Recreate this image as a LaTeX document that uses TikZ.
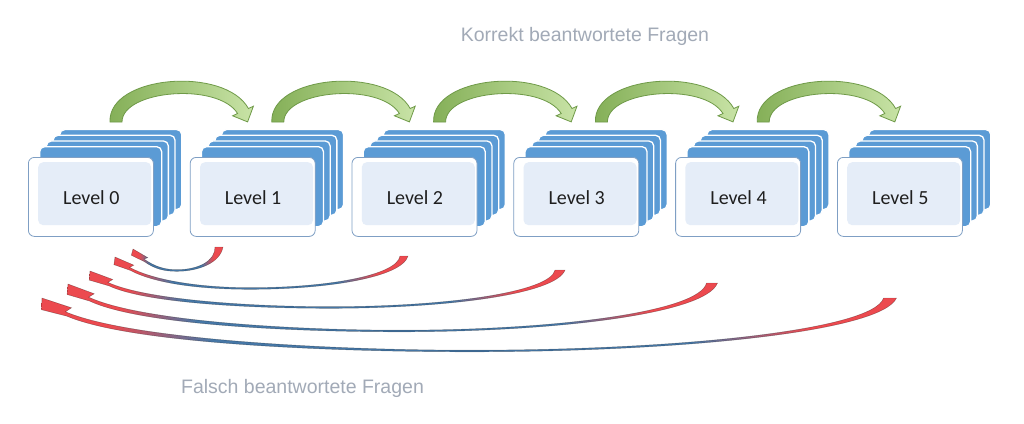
\documentclass[tikz,border=0pt]{standalone}
\usepackage{fontspec}
\setmainfont{Carlito}
\newfontfamily\arialf{Liberation Sans}
\usetikzlibrary{calc}

\definecolor{cardblue}{HTML}{5B9BD5}
\definecolor{cardedge}{HTML}{7F9FC4}
\definecolor{cardin}{HTML}{E5EDF8}
\definecolor{titlegrey}{HTML}{A2AAB7}
\definecolor{rd}{HTML}{EC4A4F}
\definecolor{bl}{HTML}{4677A6}
\definecolor{gdark}{HTML}{6F9A48}
\definecolor{gleft}{HTML}{84AF57}
\definecolor{gright}{HTML}{C8E3A6}

\pgfdeclarehorizontalshading{redblue}{100bp}{color(0bp)=(rd); color(29bp)=(rd); color(35bp)=(bl); color(63bp)=(bl); color(70bp)=(rd); color(100bp)=(rd)}

% #1 tail x, #2 tail y, #3 tail width, #4 bottom x, #5 bottom y,
% #6 tip x, #7 tip y, #8 head angle, #9 head scale
\newcommand\redarr[9]{%
  \pgfmathsetmacro\rc{0.03*(#1-#4)}%
  \pgfmathsetmacro\rk{0.6*(#5-#2)}%
  \pgfmathsetmacro\rPa{#4+0.5*(#1-#4)}%
  \pgfmathsetmacro\rHx{#6+#9*(27*cos(#8)-3.5*sin(#8))}%
  \pgfmathsetmacro\rHy{#7+#9*(27*sin(#8)+3.5*cos(#8))}%
  \pgfmathsetmacro\rPb{#4-0.35*(#4-\rHx)}%
  \pgfmathsetmacro\rdB{min(0.35*(#4-\rHx)/cos(#8),0.7*(#5-\rHy)/sin(#8))}%
  \pgfmathsetmacro\rdx{\rdB*cos(#8)}%
  \pgfmathsetmacro\rdy{\rdB*sin(#8)}%
  \begin{scope}[shift={(#6,#7)},rotate=-#8]
    \coordinate (hT) at (0,0);
    \coordinate (hB) at ({31*#9},{-2.5*#9});
    \coordinate (hJ) at ({27*#9},{3.5*#9});
    \coordinate (hL) at ({30*#9},{7*#9});
    \coordinate (hC) at ({4*#9},{11*#9});
  \end{scope}
  \path[redarrow] ({#1-0.5*#3},#2) .. controls ({#1-0.3*#3-\rc},{#2+\rk}) and (\rPa,{#5-0.8}) .. (#4,{#5-0.8})
    .. controls (\rPb,{#5-0.8}) and ($(hJ)+(\rdx,\rdy)$) .. (hJ) -- (hB) -- (hT) -- (hC) -- (hL)
    .. controls ($(hL)+(\rdx,\rdy)$) and (\rPb,{#5+0.8}) .. (#4,{#5+0.8})
    .. controls (\rPa,{#5+0.8}) and ({#1+0.3*#3-\rc},{#2+\rk+2}) .. ({#1+0.5*#3},#2) -- cycle;
}

\begin{document}
\begin{tikzpicture}[x=1pt,y=-1pt,
  backcard/.style={draw=white, line width=1.3pt, fill=cardblue, rounded corners=5pt,
    minimum width=122pt, minimum height=80pt, inner sep=0pt, anchor=north west},
  frontcard/.style={draw=cardedge, line width=0.8pt, fill=white, rounded corners=6pt,
    minimum width=125pt, minimum height=79pt, inner sep=0pt, anchor=north west},
  innercard/.style={fill=cardin, rounded corners=5pt, minimum width=113pt,
    minimum height=63pt, inner sep=0pt, anchor=north west},
  lvl/.style={font=\fontsize{20}{24}\selectfont, text=black!88, anchor=base, inner sep=0pt},
  title/.style={font=\arialf\fontsize{19.5}{23}\selectfont, text=titlegrey, anchor=base, inner sep=0pt},
  greenarrow/.style={draw=gdark, line width=0.8pt, left color=gleft, right color=gright},
  redarrow/.style={shading=redblue, draw=black, draw opacity=0.35, line width=0.45pt}]

\fill[white] (0,0) rectangle (1024,423);
\useasboundingbox (0,0) rectangle (1024,423);

% card stacks
\foreach \i in {0,...,5}{
  \pgfmathsetmacro\X{28+161.8*\i}
  \foreach \k in {4,3,2,1}{
    \node[backcard] (B\i\k) at ({\X+11+6.7*(\k-1)},{146-5.7*(\k-1)}) {};
  }
  \node[frontcard] (L\i) at (\X,157) {};
  \node[innercard] (I\i) at ({\X+10},162) {};
  \node[lvl] (T\i) at ({\X+63.3},204.5) {Level \i};
}

% green arrows (correct answers)
\foreach \i in {0,...,4}{
  \begin{scope}[xshift={161.8*\i}]
    \path[greenarrow] (110,122) .. controls (108,75) and (225,66) .. (248.4,108.5)
      -- (253.4,106.2) -- (247.6,121.9) -- (232.6,115.8) -- (237.6,113.5)
      .. controls (218,82) and (122,90) .. (122,122) -- cycle;
  \end{scope}
}

% red arrows (wrong answers)
\redarr{219}{247}{8}{177}{270.5}{133}{249}{35}{0.55}
\redarr{404}{256}{8}{250}{288.5}{115}{257}{28}{0.66}
\redarr{560}{270}{10}{330}{307.5}{90}{271}{25}{0.78}
\redarr{712}{283}{11}{400}{331}{68}{284}{25}{0.9}
\redarr{890}{298}{13}{470}{351}{42}{298}{23}{1}

\node[title] (korrekt) at (585,41.7) {Korrekt beantwortete Fragen};
\node[title] (falsch) at (302.5,393.3) {Falsch beantwortete Fragen};
\end{tikzpicture}
\end{document}
